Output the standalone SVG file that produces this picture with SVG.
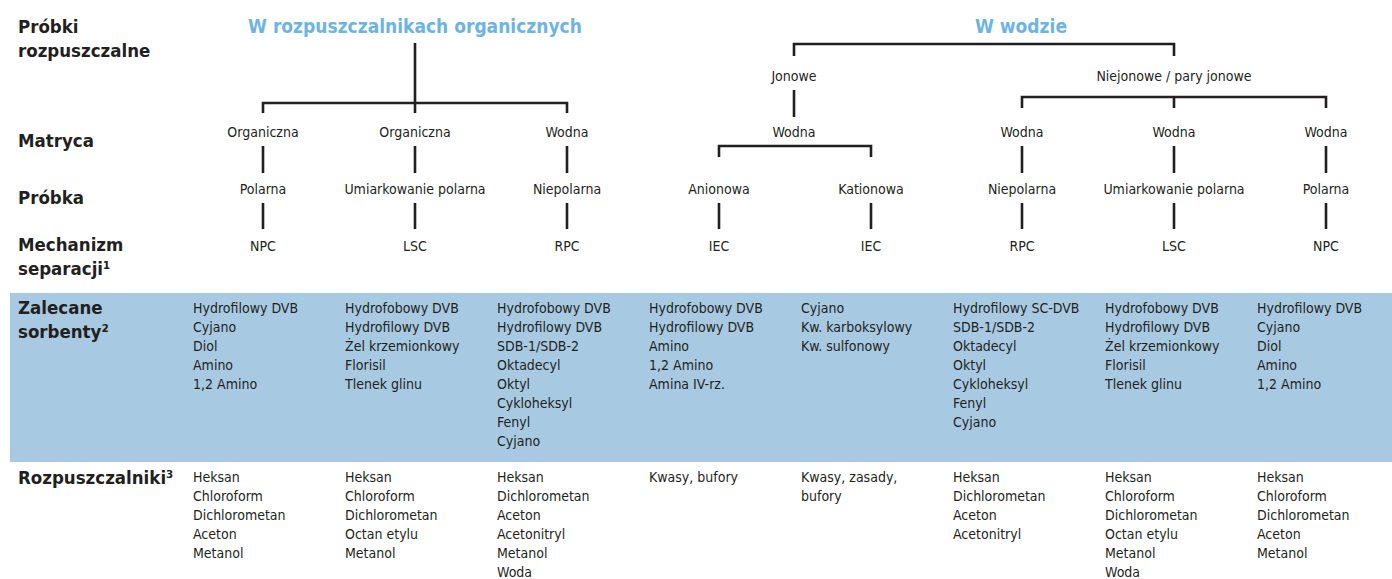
<svg xmlns="http://www.w3.org/2000/svg" width="1392" height="579" viewBox="0 0 1392 579">
<style>
.t{font-family:"DejaVu Sans Condensed","DejaVu Sans",sans-serif;font-stretch:condensed;font-size:14px;fill:#231f20}
.c{text-anchor:middle}
.lb{font-family:"DejaVu Sans Condensed","DejaVu Sans",sans-serif;font-stretch:condensed;font-weight:bold;font-size:18.5px;fill:#231f20}
.hd{font-family:"DejaVu Sans Condensed","DejaVu Sans",sans-serif;font-stretch:condensed;font-weight:bold;font-size:19px;fill:#6cb4e4;text-anchor:middle}
.ln{fill:none;stroke:#231f20;stroke-width:2.6;stroke-linecap:butt;stroke-linejoin:miter}
</style>
<rect x="0" y="0" width="1392" height="579" fill="#ffffff"/>
<rect id="band" x="10" y="293" width="1382" height="169" fill="#a7cae2"/>

<g id="row-labels">
<text class="lb" x="18" y="33">Próbki</text>
<text class="lb" x="18" y="57">rozpuszczalne</text>
<text class="lb" x="18" y="147">Matryca</text>
<text class="lb" x="18" y="204">Próbka</text>
<text class="lb" x="18" y="251">Mechanizm</text>
<text class="lb" x="18" y="275">separacji¹</text>
<text class="lb" x="18" y="314">Zalecane</text>
<text class="lb" x="18" y="338">sorbenty²</text>
<text class="lb" x="18" y="484">Rozpuszczalniki³</text>
</g>

<g id="connectors">
<path class="ln" d="M415,43 V113 M263,113 V103 H567 V113"/>
<path class="ln" d="M794,56 V44 H1174 V56"/>
<path class="ln" d="M794,90 V117"/>
<path class="ln" d="M719,157 V146 H871 V157"/>
<path class="ln" d="M1022,108 V97 H1326 V108 M1174,97 V108"/>
<path class="ln" d="M263,146 V173 M415,146 V173 M567,146 V173 M1022,146 V173 M1174,146 V173 M1326,146 V173"/>
<path class="ln" d="M263,203 V229 M415,203 V229 M567,203 V229 M719,203 V229 M871,203 V229 M1022,203 V229 M1174,203 V229 M1326,203 V229"/>
</g>

<g id="node-organic"><text class="hd" x="415" y="33">W rozpuszczalnikach organicznych</text></g>
<g id="node-water"><text class="hd" x="1021" y="33">W wodzie</text></g>
<g id="node-jonowe"><text class="t c" x="794" y="81">Jonowe</text></g>
<g id="node-niejonowe"><text class="t c" x="1174" y="81">Niejonowe / pary jonowe</text></g>

<g id="node-m1"><text class="t c" x="263" y="137">Organiczna</text></g>
<g id="node-m2"><text class="t c" x="415" y="137">Organiczna</text></g>
<g id="node-m3"><text class="t c" x="567" y="137">Wodna</text></g>
<g id="node-m4"><text class="t c" x="794" y="137">Wodna</text></g>
<g id="node-m5"><text class="t c" x="1022" y="137">Wodna</text></g>
<g id="node-m6"><text class="t c" x="1174" y="137">Wodna</text></g>
<g id="node-m7"><text class="t c" x="1326" y="137">Wodna</text></g>

<g id="node-p1"><text class="t c" x="263" y="194">Polarna</text></g>
<g id="node-p2"><text class="t c" x="415" y="194">Umiarkowanie polarna</text></g>
<g id="node-p3"><text class="t c" x="567" y="194">Niepolarna</text></g>
<g id="node-p4"><text class="t c" x="719" y="194">Anionowa</text></g>
<g id="node-p5"><text class="t c" x="871" y="194">Kationowa</text></g>
<g id="node-p6"><text class="t c" x="1022" y="194">Niepolarna</text></g>
<g id="node-p7"><text class="t c" x="1174" y="194">Umiarkowanie polarna</text></g>
<g id="node-p8"><text class="t c" x="1326" y="194">Polarna</text></g>

<g id="node-s1"><text class="t c" x="263" y="251">NPC</text></g>
<g id="node-s2"><text class="t c" x="415" y="251">LSC</text></g>
<g id="node-s3"><text class="t c" x="567" y="251">RPC</text></g>
<g id="node-s4"><text class="t c" x="719" y="251">IEC</text></g>
<g id="node-s5"><text class="t c" x="871" y="251">IEC</text></g>
<g id="node-s6"><text class="t c" x="1022" y="251">RPC</text></g>
<g id="node-s7"><text class="t c" x="1174" y="251">LSC</text></g>
<g id="node-s8"><text class="t c" x="1326" y="251">NPC</text></g>

<g id="sorbents">
<text class="t" x="193" y="313"><tspan x="193">Hydrofilowy DVB</tspan><tspan x="193" dy="19">Cyjano</tspan><tspan x="193" dy="19">Diol</tspan><tspan x="193" dy="19">Amino</tspan><tspan x="193" dy="19">1,2 Amino</tspan></text>
<text class="t" x="345" y="313"><tspan x="345">Hydrofobowy DVB</tspan><tspan x="345" dy="19">Hydrofilowy DVB</tspan><tspan x="345" dy="19">Żel krzemionkowy</tspan><tspan x="345" dy="19">Florisil</tspan><tspan x="345" dy="19">Tlenek glinu</tspan></text>
<text class="t" x="497" y="313"><tspan x="497">Hydrofobowy DVB</tspan><tspan x="497" dy="19">Hydrofilowy DVB</tspan><tspan x="497" dy="19">SDB-1/SDB-2</tspan><tspan x="497" dy="19">Oktadecyl</tspan><tspan x="497" dy="19">Oktyl</tspan><tspan x="497" dy="19">Cykloheksyl</tspan><tspan x="497" dy="19">Fenyl</tspan><tspan x="497" dy="19">Cyjano</tspan></text>
<text class="t" x="649" y="313"><tspan x="649">Hydrofobowy DVB</tspan><tspan x="649" dy="19">Hydrofilowy DVB</tspan><tspan x="649" dy="19">Amino</tspan><tspan x="649" dy="19">1,2 Amino</tspan><tspan x="649" dy="19">Amina IV-rz.</tspan></text>
<text class="t" x="801" y="313"><tspan x="801">Cyjano</tspan><tspan x="801" dy="19">Kw. karboksylowy</tspan><tspan x="801" dy="19">Kw. sulfonowy</tspan></text>
<text class="t" x="953" y="313"><tspan x="953">Hydrofilowy SC-DVB</tspan><tspan x="953" dy="19">SDB-1/SDB-2</tspan><tspan x="953" dy="19">Oktadecyl</tspan><tspan x="953" dy="19">Oktyl</tspan><tspan x="953" dy="19">Cykloheksyl</tspan><tspan x="953" dy="19">Fenyl</tspan><tspan x="953" dy="19">Cyjano</tspan></text>
<text class="t" x="1105" y="313"><tspan x="1105">Hydrofobowy DVB</tspan><tspan x="1105" dy="19">Hydrofilowy DVB</tspan><tspan x="1105" dy="19">Żel krzemionkowy</tspan><tspan x="1105" dy="19">Florisil</tspan><tspan x="1105" dy="19">Tlenek glinu</tspan></text>
<text class="t" x="1257" y="313"><tspan x="1257">Hydrofilowy DVB</tspan><tspan x="1257" dy="19">Cyjano</tspan><tspan x="1257" dy="19">Diol</tspan><tspan x="1257" dy="19">Amino</tspan><tspan x="1257" dy="19">1,2 Amino</tspan></text>
</g>

<g id="solvents">
<text class="t" x="193" y="482"><tspan x="193">Heksan</tspan><tspan x="193" dy="19">Chloroform</tspan><tspan x="193" dy="19">Dichlorometan</tspan><tspan x="193" dy="19">Aceton</tspan><tspan x="193" dy="19">Metanol</tspan></text>
<text class="t" x="345" y="482"><tspan x="345">Heksan</tspan><tspan x="345" dy="19">Chloroform</tspan><tspan x="345" dy="19">Dichlorometan</tspan><tspan x="345" dy="19">Octan etylu</tspan><tspan x="345" dy="19">Metanol</tspan></text>
<text class="t" x="497" y="482"><tspan x="497">Heksan</tspan><tspan x="497" dy="19">Dichlorometan</tspan><tspan x="497" dy="19">Aceton</tspan><tspan x="497" dy="19">Acetonitryl</tspan><tspan x="497" dy="19">Metanol</tspan><tspan x="497" dy="19">Woda</tspan></text>
<text class="t" x="649" y="482"><tspan x="649">Kwasy, bufory</tspan></text>
<text class="t" x="801" y="482"><tspan x="801">Kwasy, zasady,</tspan><tspan x="801" dy="19">bufory</tspan></text>
<text class="t" x="953" y="482"><tspan x="953">Heksan</tspan><tspan x="953" dy="19">Dichlorometan</tspan><tspan x="953" dy="19">Aceton</tspan><tspan x="953" dy="19">Acetonitryl</tspan></text>
<text class="t" x="1105" y="482"><tspan x="1105">Heksan</tspan><tspan x="1105" dy="19">Chloroform</tspan><tspan x="1105" dy="19">Dichlorometan</tspan><tspan x="1105" dy="19">Octan etylu</tspan><tspan x="1105" dy="19">Metanol</tspan><tspan x="1105" dy="19">Woda</tspan></text>
<text class="t" x="1257" y="482"><tspan x="1257">Heksan</tspan><tspan x="1257" dy="19">Chloroform</tspan><tspan x="1257" dy="19">Dichlorometan</tspan><tspan x="1257" dy="19">Aceton</tspan><tspan x="1257" dy="19">Metanol</tspan></text>
</g>
</svg>
